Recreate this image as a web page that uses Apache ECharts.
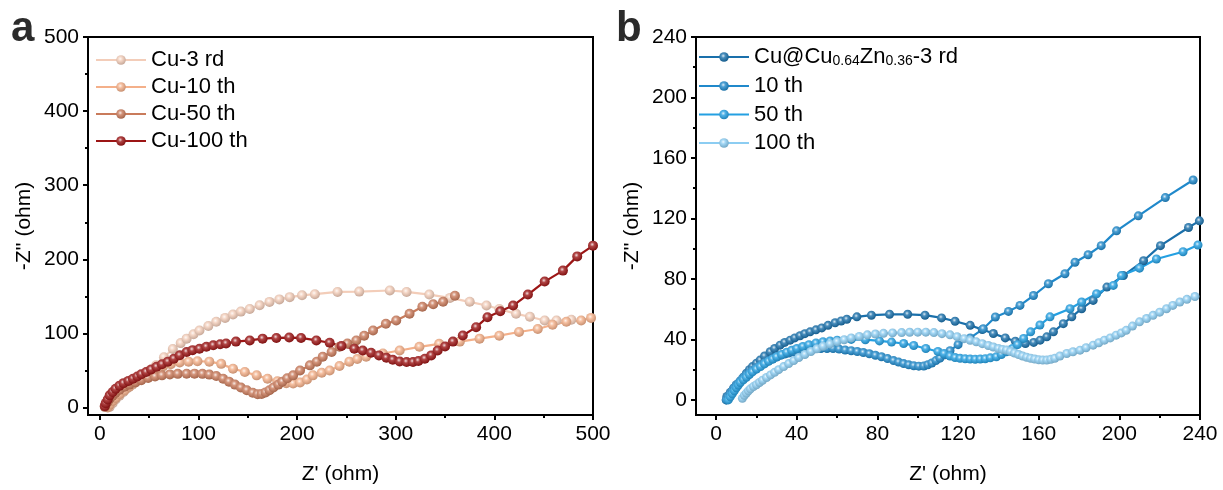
<!DOCTYPE html>
<html>
<head>
<meta charset="utf-8">
<script src="https://cdn.jsdelivr.net/npm/echarts@6/dist/echarts.min.js"></script>
<style>
html,body{margin:0;padding:0;background:#fff;}
#c{width:1223px;height:490px;}
</style>
</head>
<body>
<div id="c"></div>
<script>
// ---------- DATA ----------
// Panel a: Cu electrode, [Z', -Z'']
const aCu3 = [[10,1],[13,6],[16,11],[20,16],[24,21],[28,26],[33,31],[38,37],[44,43],[50,50],[57,57],[65,68],[74,79],[82,87],[88,93],[95,99],[101,104],[110,110],[118,115.7],[127,121],[135,125.6],[143,129.5],[152,133],[162,138],[172,142.6],[182,146],[192.5,149],[205,151.5],[218,153],[241,156],[263,156.5],[294,158],[311,156],[334,152.5],[355,148],[375,142.7],[392,137.7],[405,133],[422,126.5],[436,122.5],[451,117.5],[463,117.5],[478,118.5]];
const aCu10 = [[8,0],[10,4],[13,9],[16,13],[20,18],[25,23],[30,28],[36,34],[42,40],[49,46],[56,51],[64,55.5],[72,58.5],[81,61],[90,62],[99,62.5],[111,62],[123,59],[135,52.5],[147,48],[159,43.5],[170,39],[180,35.5],[189,33],[196,32.5],[203,34],[210,38],[216,43.5],[225,47],[233,50],[243,56],[253,62],[261,65.5],[270,68.6],[287,73],[304,77],[324,82],[344,86],[365,89],[385,93],[405,97],[425,102],[444,106],[459,111.7],[473,115.7],[488,117.5],[498,121]];
const aCu50 = [[5,1],[6,4],[8,8],[10,12],[13,16],[16,20],[20,24],[25,28],[30,31],[36,34],[42,37],[49,40],[56,42],[63,43.5],[71,44.8],[79,45.5],[88,45.7],[96,45.8],[104,45.5],[111,44.5],[118,42.5],[125,39],[131,35],[137,31],[143,27],[149,23.5],[155,20],[160,18],[164,18.5],[168,20.5],[172,23.5],[176,27],[181,31],[185,35],[190,39.5],[196,43.5],[203,50],[213,57],[220,62],[226,68.6],[235,75],[243,82],[251,86.5],[260,90.6],[268,97],[277,104],[290,113],[300.5,117.5],[314,126.5],[327,136],[338,139.5],[348,142.7],[360,151]];
const aCu100 = [[5,2],[6,6],[8,11],[10,16.5],[13,21],[16,25.5],[20,29.6],[24,33],[29,36],[33.6,39],[38,42],[42,45],[47,48],[52,51.5],[57.5,55],[63,58.5],[69,62],[75,66],[81,70.5],[88,75],[94,77.5],[101,79.4],[108,82],[115,84],[122,85.5],[128,86.5],[138,89],[152,90.6],[165,93],[179,94],[192,94.5],[204,94],[219.5,90.6],[233,87.5],[245,83],[258,79.4],[266.5,77],[275,74],[283,70.4],[290.5,67.3],[297,64.6],[304,62.3],[311,61.4],[317.5,61.4],[323,62.8],[329.5,66],[336,70.4],[342.5,77],[350,82.5],[358,89],[368,97.3],[381.5,108.5],[393,122],[406,130],[419,137.7],[434,152.5],[451,170],[469.5,184.8],[484,204],[500,218.5]];

// Panel b: Cu@Cu0.64Zn0.36 electrode, [Z', -Z'']
const b3 = [[5,0],[5.3,2.2],[7,5],[8.6,7.7],[10,10],[12,12.5],[13.5,15],[15,17.6],[16.5,20],[18,22],[20,24.3],[21.8,26.3],[24,29],[26.8,31.8],[29,34],[31.7,36.2],[34,38],[36.7,39.5],[39,41],[41.6,42.4],[44,43.8],[46.6,45],[49.5,46.3],[52.4,47.6],[55.5,49.3],[59,51],[62,52.2],[64.8,53.3],[69.8,54.9],[77,56],[86,56.6],[95,56.6],[103.6,56],[111.8,54.2],[118.5,52],[126,49.3],[132,46.5],[137.5,43.9],[143.4,41],[148.4,38.8],[153.4,37.3],[157.5,38],[160.7,39.5],[164,41.7],[167.3,45],[172.2,50.4],[176.4,54.9],[181.3,60.3],[187,65.8],[193.8,74.6],[202,82.2],[212,92],[220.4,102],[234.3,114],[239.7,118.4]];
const b10 = [[5,0],[6,2],[7,4],[8,6],[9,8],[10,9.5],[11,11],[12,12.5],[13,14],[14,15.3],[15,16.5],[16.5,18],[18,19.5],[19.5,20.8],[21,22],[22.5,23.3],[24,24.5],[26,25.8],[28,27],[30,28.3],[32,29.5],[34,30.3],[36,31],[38.5,31.8],[41,32.5],[43.5,33],[46,33.5],[49,33.8],[52,34],[55,34],[58,34],[61,33.6],[64,33],[67,32.5],[70,32],[73,31.3],[76,30.5],[79,29.5],[82,28.5],[85,27.3],[88,26],[90.5,25],[93,24],[95.5,23.2],[98,22.6],[100.5,22.3],[103,22.4],[105,23.2],[107,24.4],[109,26],[111,27.6],[113.5,29.8],[116,32.5],[120,36.5],[126,41],[132.5,47],[138.5,54.8],[145,58.5],[150.7,62.5],[157.4,69],[164.8,76.8],[173,83.4],[178,91],[184.5,96],[191,102],[198.6,111.8],[209.4,121.7],[222.8,133.8],[236.6,145.4]];
const b50 = [[6,0],[7,2],[8,4],[9,6],[10,8],[11,9.8],[12,11.5],[13.5,13.3],[15,15],[16.5,16.8],[18,18.5],[20,20.3],[22,22],[24,23.8],[26,25.5],[28,27],[30,28.5],[32.5,30],[35,31.5],[37.5,32.8],[40,34],[43,35.3],[46,36.5],[49.5,37.6],[53,38.5],[56.5,39],[60,39.5],[67,40],[74,39.8],[81,39],[87,38.2],[93,37.3],[98,36],[104,34],[110,32],[113,30.6],[116,29],[118.5,28],[121,27.5],[123.5,27.2],[126,27],[128.5,26.9],[131,27],[133.5,27.2],[136,27.8],[139,28.5],[141.5,30],[144,31.8],[147,34],[149.5,36.5],[152.5,40.6],[156,45],[160.6,49.5],[165.6,54.9],[175.5,60.3],[181.3,64.7],[188.7,70.2],[197,75.7],[201,82.2],[210,87.1],[218.4,93.2],[231.6,98],[239,102.4]];
const b100 = [[13,1],[14,3],[15,4.5],[16,6],[17,7.3],[18.5,8.8],[20,10],[21.5,11.5],[23,13],[25,14.8],[27,16.5],[29,18.2],[31,20],[33.5,22],[36,24],[38.5,26],[41,28],[44,30],[47,32],[50,33.8],[53,35.5],[56.5,37],[60,38.5],[63.5,39.8],[67,41],[71,42],[75,43],[79,43.6],[83,44],[87.5,44.3],[92,44.5],[96,44.7],[100,44.8],[104,44.8],[108,44.5],[112,43.8],[116,43],[119.5,41.8],[123,40.5],[126,39.4],[129,38.4],[132,37.2],[135,36],[137.5,35],[140,34],[142,33.4],[144,33],[146,32],[148,31],[150,30],[152,29],[154,28.2],[156,27.5],[158,27],[160,26.5],[162,26.3],[164,26.3],[166,26.8],[168,27.5],[170.5,29],[173.9,30.7],[177,31.8],[180.5,32.9],[183.5,34.5],[187,36.2],[189.8,37.8],[192.6,39.5],[195.5,41],[198.4,42.8],[201,44.3],[203.4,46],[206.5,48.8],[210,51.6],[213.5,53.8],[216.7,55.9],[220,58],[223.4,60.3],[226.5,62.5],[230,64.7],[233.5,66.5],[237.5,68.4]];

const aNames = ['Cu-3 rd','Cu-10 th','Cu-50 th','Cu-100 th'];
const bNames = ['Cu@Cu0.64Zn0.36-3 rd','10 th','50 th','100 th'];
const aColors = ['#f3cdb9','#f4b08a','#c97b5b','#9c1515'];
const bColors = ['#1a70ab','#2089cb','#24a0e2','#8ccdf2'];

const aXTicks = [0,100,200,300,400,500];
const aXMinor = [50,150,250,350,450];
const aYTicks = [0,100,200,300,400,500];
const aYMinor = [50,150,250,350,450];
const bXTicks = [0,40,80,120,160,200,240];
const bXMinor = [20,60,100,140,180,220];
const bYTicks = [0,40,80,120,160,200,240];
const bYMinor = [20,60,100,140,180,220];

// ---------- CHART ----------
const FONT = "'Liberation Sans', Arial, sans-serif";
const FS = 21;
const LFS = 22;
function shade(hex, f) {
  const n = parseInt(hex.slice(1), 16);
  let r = (n >> 16) & 255, g = (n >> 8) & 255, b = n & 255;
  if (f < 0) { r = Math.round(r * (1 + f)); g = Math.round(g * (1 + f)); b = Math.round(b * (1 + f)); }
  else { r = Math.round(r + (255 - r) * f); g = Math.round(g + (255 - g) * f); b = Math.round(b + (255 - b) * f); }
  return 'rgb(' + r + ',' + g + ',' + b + ')';
}
function ball(c) {
  return { type: 'radial', x: 0.42, y: 0.38, r: 0.62, colorStops: [
    { offset: 0, color: shade(c, 0.85) },
    { offset: 0.35, color: shade(c, 0.2) },
    { offset: 1, color: shade(c, -0.18) }
  ]};
}

const grids = [
  { left: 88, top: 37, width: 505, height: 380 },
  { left: 696, top: 37, width: 504, height: 380 }
];
grids.forEach(g => { g.show = true; g.borderColor = '#000'; g.borderWidth = 2; g.backgroundColor = 'transparent'; });

function mainAxis(kind, gi, min, max, ticks, name, nameGap) {
  return {
    type: 'value', gridIndex: gi, min: min, max: max,
    position: kind === 'x' ? 'bottom' : 'left',
    splitLine: { show: false },
    axisLine: { show: true, onZero: false, lineStyle: { color: '#000', width: 2 } },
    axisTick: { show: true, length: 5, lineStyle: { color: '#000', width: 2 }, customValues: ticks },
    axisLabel: { show: true, customValues: ticks, color: '#000', fontSize: FS, fontFamily: FONT, margin: 9 },
    name: name, nameLocation: 'middle', nameGap: nameGap,
    nameTextStyle: { color: '#000', fontSize: FS, fontFamily: FONT }
  };
}
function minorAxis(kind, gi, min, max, ticks) {
  return {
    type: 'value', gridIndex: gi, min: min, max: max,
    position: kind === 'x' ? 'bottom' : 'left',
    splitLine: { show: false },
    axisLine: { show: false, onZero: false },
    axisTick: { show: true, length: 3, lineStyle: { color: '#000', width: 2 }, customValues: ticks },
    axisLabel: { show: false, customValues: ticks }
  };
}

const xAxes = [
  mainAxis('x', 0, -12, 500, aXTicks, "Z' (ohm)", 49),
  minorAxis('x', 0, -12, 500, aXMinor),
  mainAxis('x', 1, -10, 240, bXTicks, "Z' (ohm)", 49),
  minorAxis('x', 1, -10, 240, bXMinor)
];
const yAxes = [
  mainAxis('y', 0, -10, 500, aYTicks, "-Z'' (ohm)", 53),
  minorAxis('y', 0, -10, 500, aYMinor),
  mainAxis('y', 1, -10, 240, bYTicks, "-Z'' (ohm)", 53),
  minorAxis('y', 1, -10, 240, bYMinor)
];

const aData = [aCu3, aCu10, aCu50, aCu100];
const bData = [b3, b10, b50, b100];
const series = [];
aData.forEach((d, i) => series.push({
  name: aNames[i], type: 'line', xAxisIndex: 0, yAxisIndex: 0, data: d,
  symbol: 'circle', symbolSize: 10, showSymbol: true,
  lineStyle: { color: aColors[i], width: 2.2 },
  itemStyle: { color: ball(aColors[i]) }
}));
bData.forEach((d, i) => series.push({
  name: bNames[i], type: 'line', xAxisIndex: 2, yAxisIndex: 2, data: d,
  symbol: 'circle', symbolSize: 9, showSymbol: true,
  lineStyle: { color: bColors[i], width: 2.2 },
  itemStyle: { color: ball(bColors[i]) }
}));

const chart = echarts.init(document.getElementById('c'), null, { renderer: 'canvas' });
chart.setOption({
  animation: false,
  backgroundColor: '#fff',
  textStyle: { fontFamily: FONT },
  grid: grids,
  xAxis: xAxes,
  yAxis: yAxes,
  legend: [
    { data: aNames, orient: 'vertical', left: 95, top: 49, itemWidth: 50, itemHeight: 12, itemGap: 5, padding: 0,
      textStyle: { fontSize: LFS, color: '#000', fontFamily: FONT } },
    { data: bNames, orient: 'vertical', left: 698, top: 46, itemWidth: 50, itemHeight: 12, itemGap: 6.5, padding: 0,
      formatter: function (n) {
        if (n === bNames[0]) return '{n|Cu@Cu}{s|0.64}{n|Zn}{s|0.36}{n|-3 rd}';
        return '{n|' + n + '}';
      },
      textStyle: { fontSize: LFS, color: '#000', fontFamily: FONT,
        rich: { n: { fontSize: LFS, fontFamily: FONT, color: '#000', lineHeight: 23 },
                s: { fontSize: 14, fontFamily: FONT, color: '#000', lineHeight: 14, verticalAlign: 'bottom', padding: [7, 0, 0, 0] } } } }
  ],
  graphic: [
    { type: 'text', left: 11, top: 8, style: { text: 'a', font: "bold 42px 'Liberation Sans', Arial, sans-serif", fill: '#2b2b2b' } },
    { type: 'text', left: 616, top: 8, style: { text: 'b', font: "bold 42px 'Liberation Sans', Arial, sans-serif", fill: '#2b2b2b' } }
  ],
  series: series
});
</script>
</body>
</html>
